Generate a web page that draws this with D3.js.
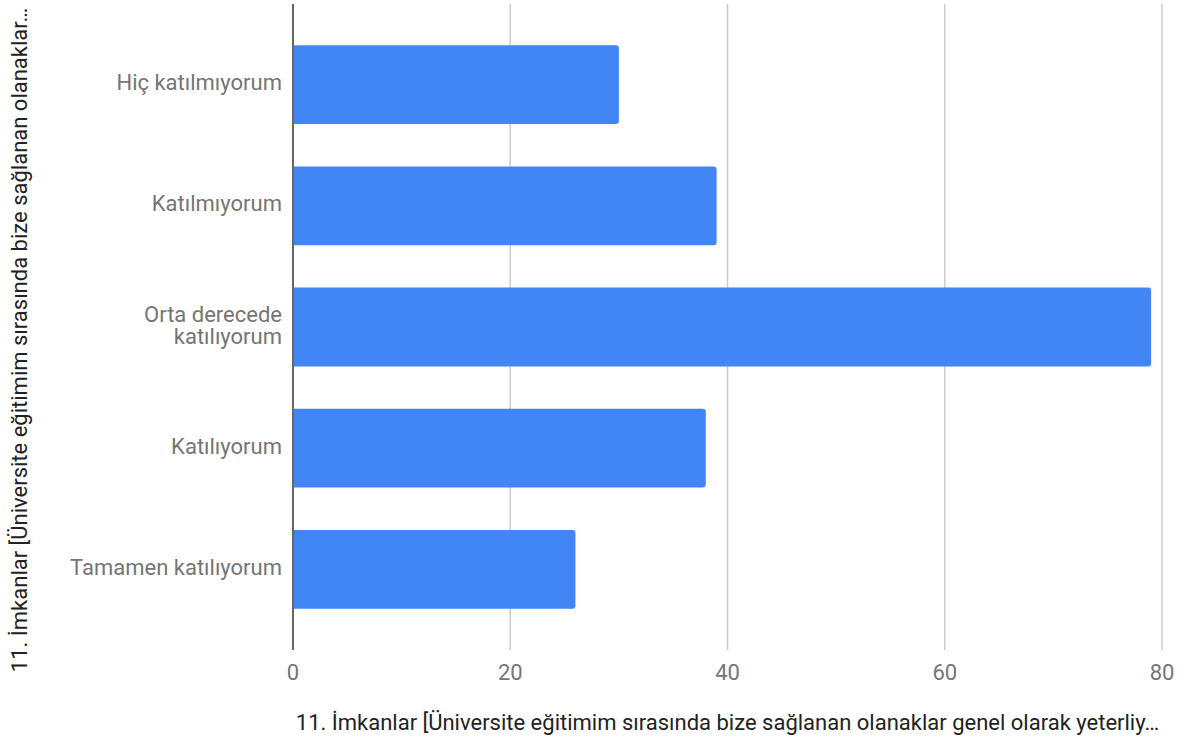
<!DOCTYPE html>
<html><head><meta charset="utf-8">
<script src="https://cdn.jsdelivr.net/npm/d3@7"></script>
<style>body{margin:0;background:#fff;}svg{display:block;font-family:Roboto,"Noto Sans",sans-serif;}</style>
</head><body>
<script>
const categories = ["Hiç katılmıyorum", "Katılmıyorum", "Orta derecede katılıyorum", "Katılıyorum", "Tamamen katılıyorum"];
const categoryLines = [["Hiç katılmıyorum"], ["Katılmıyorum"], ["Orta derecede", "katılıyorum"], ["Katılıyorum"], ["Tamamen katılıyorum"]];
const values = [30, 39, 79, 38, 26];
const xTicks = [0, 20, 40, 60, 80];
const xTitle = "11. İmkanlar [Üniversite eğitimim sırasında bize sağlanan olanaklar genel olarak yeterliy…";
const yTitle = "11. İmkanlar [Üniversite eğitimim sırasında bize sağlanan olanaklar…";

(function () {
const W = 1186, H = 742;
const pLeft = 293, pRight = 1162, pTop = 4, pBottom = 650;
const fs = 22;
const svg = d3.select("body").append("svg").attr("width", W).attr("height", H);

const x = d3.scaleLinear().domain([0, 80]).range([pLeft, pRight]);
const y = d3.scaleBand().domain(categories).range([24, 630]).paddingInner(0.35).paddingOuter(0.175);

svg.append("g").selectAll("line").data(xTicks.filter(d => d > 0)).join("line")
  .attr("x1", d => x(d)).attr("x2", d => x(d)).attr("y1", pTop).attr("y2", pBottom)
  .attr("stroke", "#cccccc").attr("stroke-width", 1.5);

svg.append("g").selectAll("path").data(values).join("path")
  .attr("fill", "#4285f4")
  .attr("d", (d, i) => {
    const x0 = x(0) + 1, x1 = x(d), y0 = y(categories[i]), h = y.bandwidth(), r = 3;
    return `M${x0},${y0}H${x1 - r}Q${x1},${y0} ${x1},${y0 + r}V${y0 + h - r}Q${x1},${y0 + h} ${x1 - r},${y0 + h}H${x0}Z`;
  });

svg.append("line").attr("x1", x(0)).attr("x2", x(0)).attr("y1", pTop).attr("y2", pBottom)
  .attr("stroke", "#333333").attr("stroke-width", 1.5);

svg.append("g").selectAll("text").data(xTicks).join("text")
  .attr("x", d => x(d)).attr("y", 680).attr("text-anchor", "middle")
  .attr("fill", "#757575").attr("font-size", fs).text(d => d);

const yl = svg.append("g").selectAll("text").data(categories).join("text")
  .attr("text-anchor", "end").attr("fill", "#757575").attr("font-size", fs)
  .attr("transform", d => `translate(282,${y(d) + y.bandwidth() / 2 + 5.5})`);
yl.each(function(d, i) {
  const lines = categoryLines[i];
  const n = lines.length, lh = 22;
  d3.select(this).selectAll("tspan").data(lines).join("tspan")
    .attr("x", 0).attr("y", (l, j) => (j - (n - 1) / 2) * lh).text(l => l);
});

svg.append("text").attr("x", (pLeft + pRight) / 2).attr("y", 730).attr("text-anchor", "middle")
  .attr("fill", "#222222").attr("font-size", fs).text(xTitle);

svg.append("text").attr("transform", `translate(27,340) rotate(-90)`).attr("text-anchor", "middle")
  .attr("fill", "#222222").attr("font-size", fs).text(yTitle);
})();
</script>
</body></html>
